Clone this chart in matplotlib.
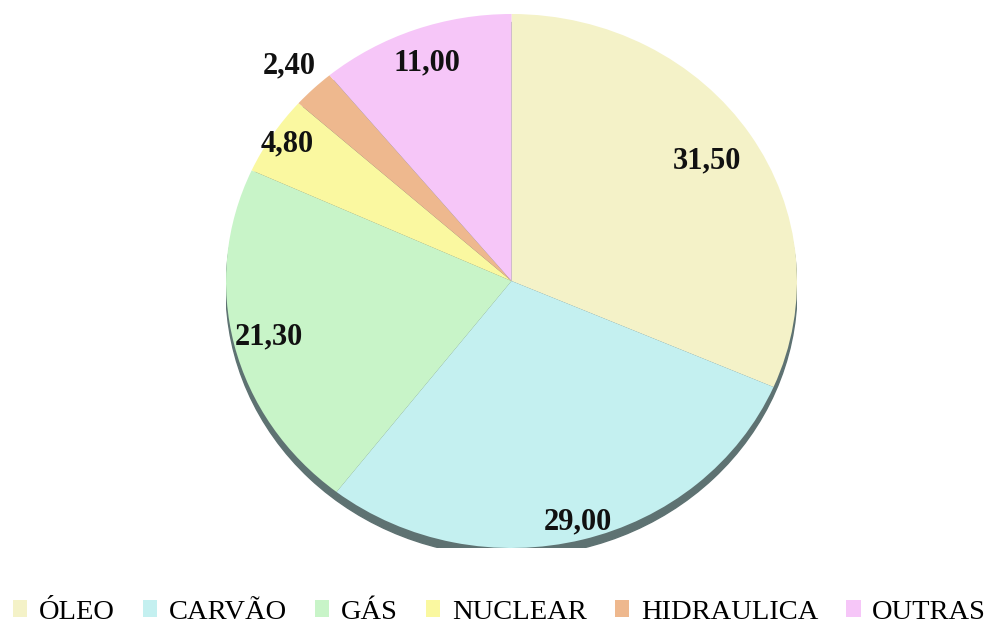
import matplotlib.pyplot as plt
from matplotlib.patches import Ellipse
import numpy as np

categories = ['ÓLEO', 'CARVÃO', 'GÁS', 'NUCLEAR', 'HIDRAULICA', 'OUTRAS']
values = [31.50, 29.00, 21.30, 4.80, 2.40, 11.00]
colors = ['#F4F2C8', '#C4F0F0', '#C8F4C8', '#FAF8A0', '#EEB88E', '#F6C6F8']
# radial position of each value label (fraction of radius)
label_r = [0.82, 0.93, 0.875, 0.94, 1.12, 0.87]

plt.rcParams['font.family'] = ['Liberation Serif', 'DejaVu Serif']

fig = plt.figure(figsize=(9.99, 6.27), dpi=100)
ax = fig.add_axes([226 / 999, 79 / 627, 571 / 999, 534 / 627])

# 3D-ish shadow under the disc
ax.add_patch(Ellipse((0, -0.032), 2.0, 2.0, color='#5E7272', zorder=0))

wedges, _ = ax.pie(values, colors=colors, startangle=90, counterclock=False,
                   radius=1.0, wedgeprops=dict(linewidth=0))
for w in wedges:
    w.set_zorder(1)

for w, v, r in zip(wedges, values, label_r):
    ang = np.deg2rad((w.theta1 + w.theta2) / 2)
    ax.text(r * np.cos(ang), r * np.sin(ang), f'{v:.2f}'.replace('.', ','),
            ha='center', va='center', fontsize=22, fontweight='bold',
            color='#111111', zorder=3)

ax.set_aspect('auto')
ax.set_xlim(-1, 1)
ax.set_ylim(-1, 1)
ax.axis('off')

fig.legend(wedges, categories, loc='lower center', bbox_to_anchor=(0.5, -0.028),
           ncol=6, frameon=False, fontsize=20.5, handlelength=0.5, handleheight=0.5,
           handletextpad=0.4, columnspacing=1.0, borderaxespad=0.3)

fig.savefig('out.png', dpi=100)
